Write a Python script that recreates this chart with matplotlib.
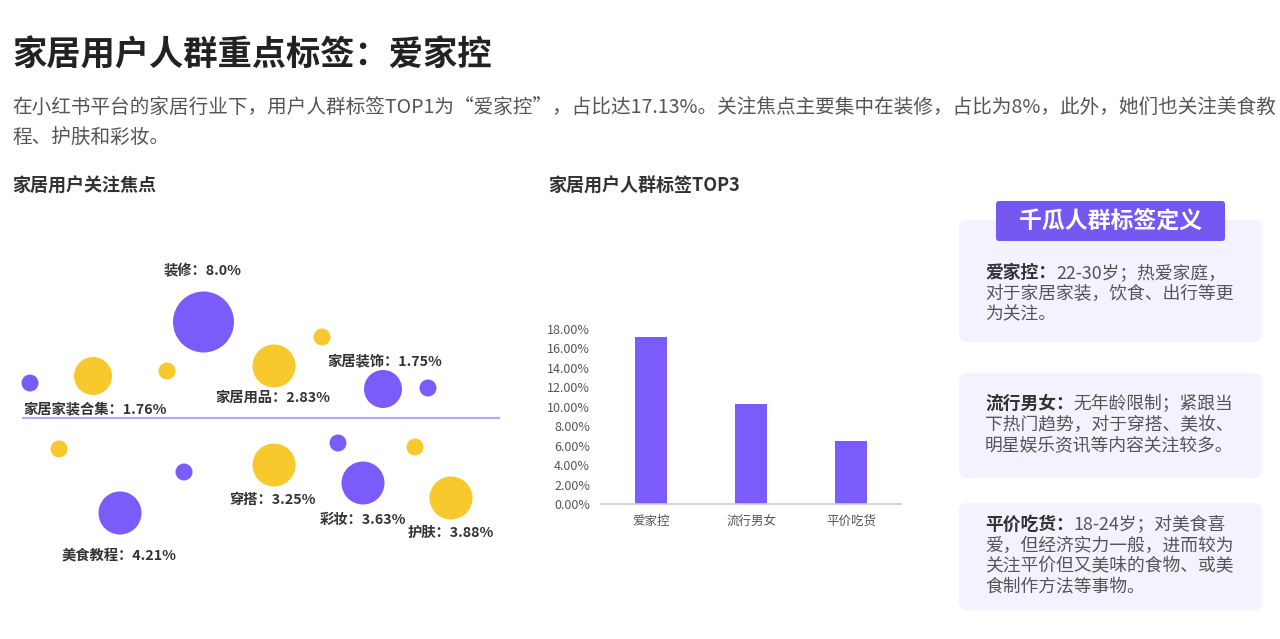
import matplotlib
matplotlib.use("Agg")
import matplotlib.pyplot as plt
from matplotlib.patches import Circle, FancyBboxPatch
from matplotlib.ticker import FuncFormatter

plt.rcParams['font.family'] = ['Noto Sans CJK SC', 'DejaVu Sans']

# ---------------- data ----------------
title = "家居用户人群重点标签：爱家控"
subtitle_lines = [
    "在小红书平台的家居行业下，用户人群标签TOP1为“爱家控”，占比达17.13%。关注焦点主要集中在装修，占比为8%，此外，她们也关注美食教",
    "程、护肤和彩妆。",
]
focus_title = "家居用户关注焦点"
bar_title = "家居用户人群标签TOP3"

focus_names = ["装修", "家居用品", "家居家装合集", "家居装饰", "穿搭", "彩妆", "护肤", "美食教程"]
focus_values = [8.0, 2.83, 1.76, 1.75, 3.25, 3.63, 3.88, 4.21]

tag_names = ["爱家控", "流行男女", "平价吃货"]
tag_shares = [17.13, 10.3, 6.5]
y_ticks = [0, 2, 4, 6, 8, 10, 12, 14, 16, 18]

def_header = "千瓜人群标签定义"
def_terms = ["爱家控：", "流行男女：", "平价吃货："]
def_texts = [
    ["22-30岁；热爱家庭，", "对于家居家装，饮食、出行等更", "为关注。"],
    ["无年龄限制；紧跟当", "下热门趋势，对于穿搭、美妆、", "明星娱乐资讯等内容关注较多。"],
    ["18-24岁；对美食喜", "爱，但经济实力一般，进而较为", "关注平价但又美味的食物、或美", "食制作方法等事物。"],
]

# ---------------- layout / style ----------------
PURPLE = "#7B5CFA"
YELLOW = "#F7C92C"
W, H = 1280, 639

# labelled bubbles (pixel layout)
lab_x = [203.5, 274, 93, 383, 274, 363, 451, 120]
lab_y = [322, 366, 376, 389, 465, 483, 498, 513]
lab_d = [61, 43, 38, 38, 43, 43, 43, 43]
lab_c = [PURPLE, YELLOW, YELLOW, PURPLE, YELLOW, PURPLE, YELLOW, PURPLE]
txt_x = [203, 273, 95, 385, 273, 363, 451, 119]
txt_y = [271, 398, 410, 361, 500, 520, 533, 556]
# decorative small bubbles
dec_x = [322, 167, 30, 428, 59, 184, 338, 415]
dec_y = [337, 371, 383, 388, 449, 472, 443, 447]
dec_c = [YELLOW, YELLOW, PURPLE, PURPLE, YELLOW, PURPLE, PURPLE, YELLOW]
dec_d = 17

fig = plt.figure(figsize=(W / 100, H / 100), dpi=100)
fig.patch.set_facecolor("white")
ov = fig.add_axes([0, 0, 1, 1])
ov.set_xlim(0, W)
ov.set_ylim(H, 0)
ov.axis("off")

# title & subtitle
ov.text(12, 55, title, fontsize=24.7, fontweight="bold", color="#222222", va="center", ha="left")
for i, line in enumerate(subtitle_lines):
    ov.text(12, 108 + 30 * i, line, fontsize=14.1, color="#555555", va="center", ha="left")

ov.text(12, 186, focus_title, fontsize=13, fontweight="bold", color="#333333", va="center")
ov.text(548, 186, bar_title, fontsize=13, fontweight="bold", color="#333333", va="center")

# bubble chart
ov.plot([22, 500], [418, 418], color="#B7A9F7", lw=1.6, solid_capstyle="butt")
for x, y, c in zip(dec_x, dec_y, dec_c):
    ov.add_patch(Circle((x, y), dec_d / 2, color=c, lw=0))
for x, y, d, c in zip(lab_x, lab_y, lab_d, lab_c):
    ov.add_patch(Circle((x, y), d / 2, color=c, lw=0))

def fmt_val(v):
    return f"{v:.1f}" if round(v, 1) == v else f"{v:.2f}"

for name, v, x, y in zip(focus_names, focus_values, txt_x, txt_y):
    ov.text(x, y, f"{name}：{fmt_val(v)}%", fontsize=10.3, fontweight="bold",
            color="#333333", ha="center", va="center")

# definition panel
box_y = [(220, 342), (373, 478), (503, 610)]
for (y0, y1) in box_y:
    ov.add_patch(FancyBboxPatch((959, y0), 303, y1 - y0,
                                boxstyle="round,pad=0,rounding_size=8",
                                fc="#F4F2FE", ec="none"))
ov.add_patch(FancyBboxPatch((996, 201), 229, 40,
                            boxstyle="round,pad=0,rounding_size=3",
                            fc="#7558F2", ec="none"))
ov.text(1110.5, 221, def_header, fontsize=16.5, fontweight="bold", color="white",
        ha="center", va="center")

line_starts = [273, 404, 525]
line_gap = 20.5
for term, lines, y0 in zip(def_terms, def_texts, line_starts):
    t = ov.text(985, y0, term, fontsize=12.8, fontweight="bold", color="#333333",
                ha="left", va="center")
    ov.annotate(lines[0], xy=(1, 0.5), xycoords=t, fontsize=12.8, color="#555555",
                ha="left", va="center")
    for k, ln in enumerate(lines[1:], start=1):
        ov.text(985, y0 + k * line_gap, ln, fontsize=12.8, color="#555555",
                ha="left", va="center")

# bar chart
ax = fig.add_axes([601 / W, (H - 504) / H, 300 / W, 175 / H])
ax.set_facecolor("none")
ax.bar(range(len(tag_names)), tag_shares, width=0.32, color=PURPLE)
ax.set_xlim(-0.5, len(tag_names) - 0.5)
ax.set_ylim(0, 18)
ax.set_yticks(y_ticks)
ax.yaxis.set_major_formatter(FuncFormatter(lambda v, p: f"{v:.2f}%"))
ax.set_xticks(range(len(tag_names)))
ax.set_xticklabels(tag_names)
for s in ["top", "right", "left"]:
    ax.spines[s].set_visible(False)
ax.spines["bottom"].set_color("#CCCCCC")
ax.spines["bottom"].set_linewidth(1.2)
ax.tick_params(axis="both", length=0, labelsize=9, labelcolor="#555555")
ax.tick_params(axis="y", pad=8)
ax.tick_params(axis="x", pad=8)

fig.savefig("out.png", dpi=100, facecolor="white")
